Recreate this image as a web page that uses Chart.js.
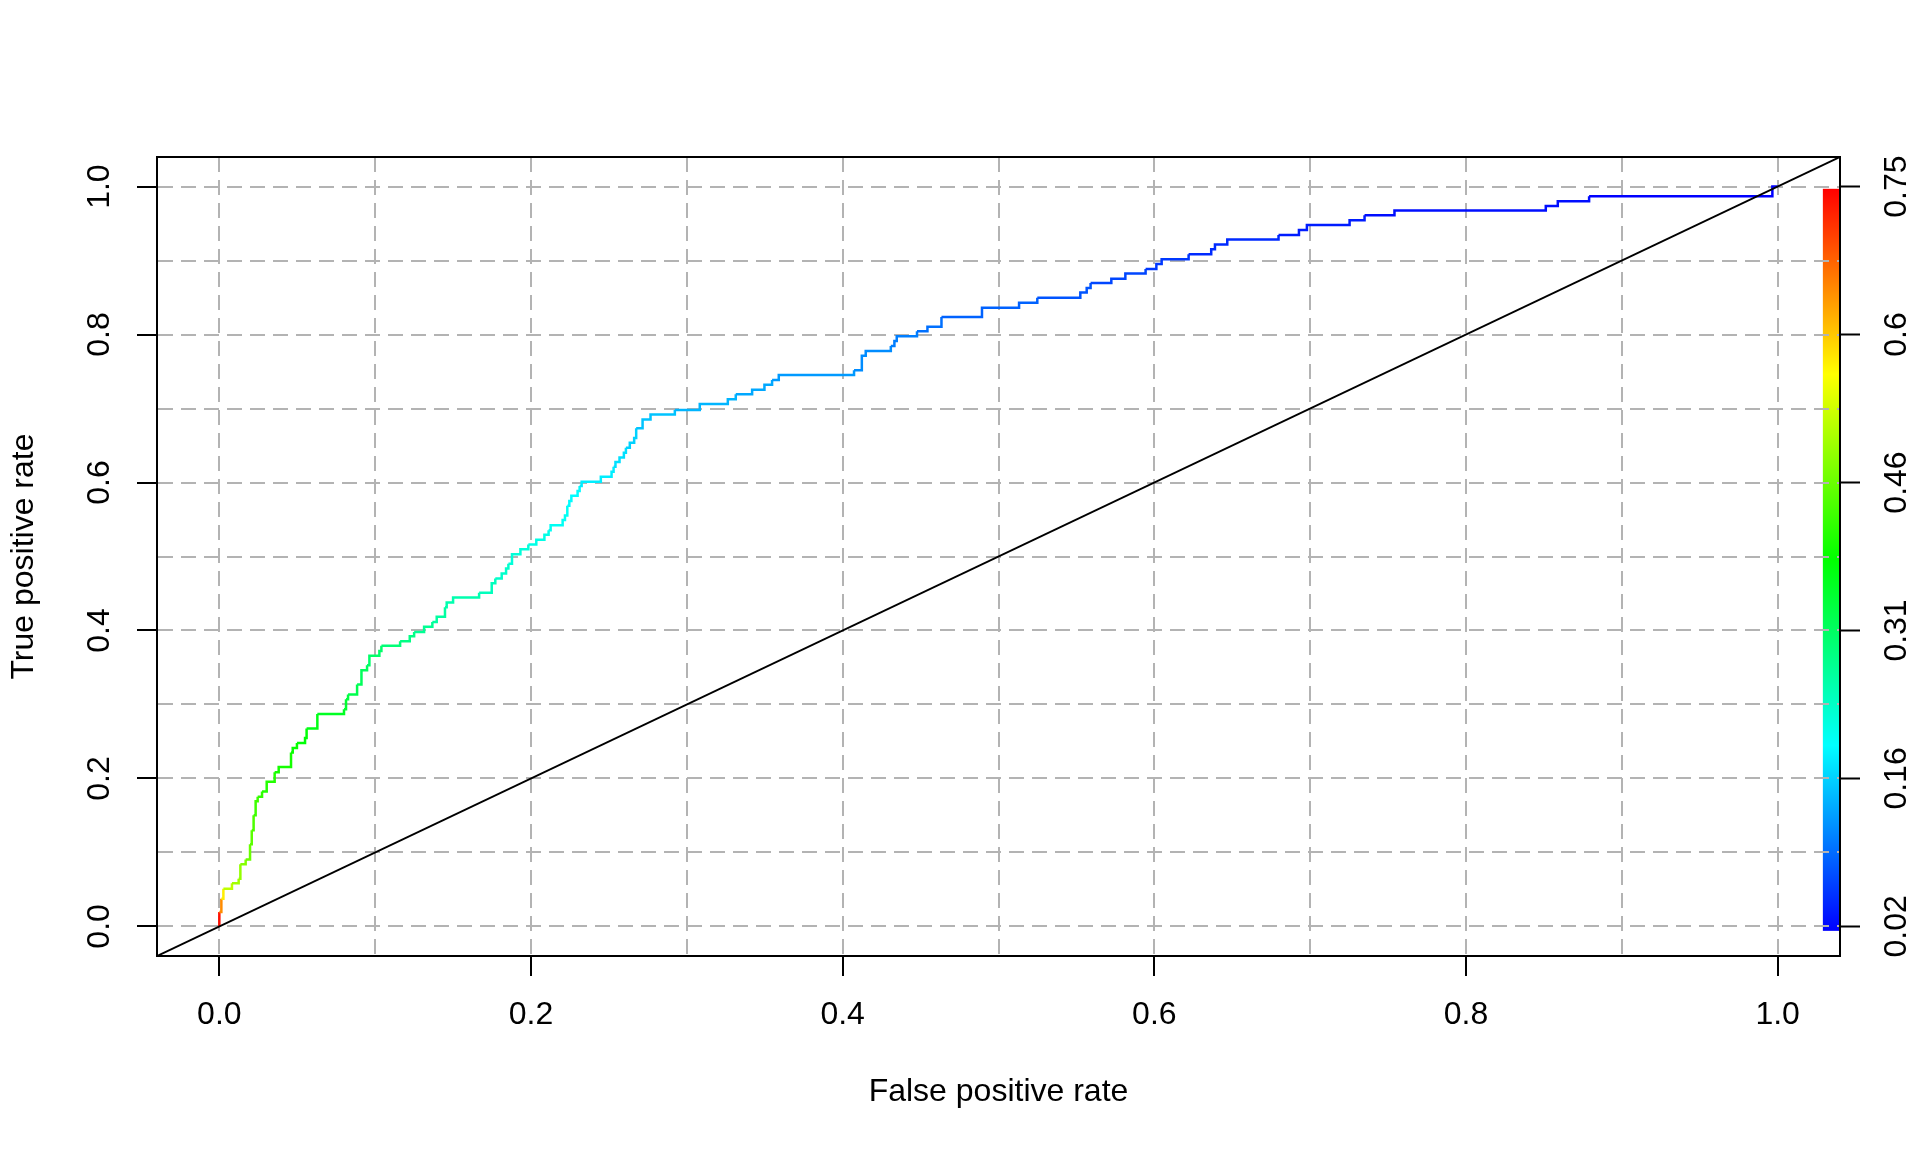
<!DOCTYPE html>
<html>
<head>
<meta charset="utf-8">
<title>ROC curve</title>
<script src="https://cdn.jsdelivr.net/npm/chart.js@4.4.1/dist/chart.umd.min.js"></script>
<style>
  html, body { margin: 0; padding: 0; background: #fff; }
  canvas { display: block; }
</style>
</head>
<body>
<canvas id="chart" width="1920" height="1152"></canvas>
<script>
// ROC curve corners (stepped: go right, then up)
const fpr = [0, 0, 0.0013, 0.0026, 0.0081, 0.0124, 0.0135, 0.0169, 0.0197, 0.0208,
  0.0220, 0.0233, 0.0246, 0.0274, 0.0304, 0.0355, 0.0381, 0.0460, 0.0471, 0.0498,
  0.0550, 0.0560, 0.0629, 0.0800, 0.0813, 0.0826, 0.0884, 0.0912, 0.0948, 0.0963,
  0.1027, 0.1040, 0.1160, 0.1222, 0.1250, 0.1314, 0.1367, 0.1395, 0.1448, 0.1459,
  0.1500, 0.1667, 0.1748, 0.1771, 0.1812, 0.1840, 0.1855, 0.1878, 0.1932, 0.1983,
  0.2034, 0.2086, 0.2113, 0.2126, 0.2203, 0.2218, 0.2233, 0.2246, 0.2259, 0.2299,
  0.2312, 0.2325, 0.2448, 0.2517, 0.2530, 0.2542, 0.2568, 0.2596, 0.2609, 0.2634,
  0.2662, 0.2675, 0.2716, 0.2767, 0.2923, 0.3083, 0.3263, 0.3314, 0.3419, 0.3498,
  0.3547, 0.3590, 0.4073, 0.4123, 0.4148, 0.4309, 0.4332, 0.4347, 0.4477, 0.4544,
  0.4634, 0.4894, 0.5132, 0.5249, 0.5525, 0.5566, 0.5591, 0.5724, 0.5814, 0.5944,
  0.6013, 0.6047, 0.6220, 0.6365, 0.6389, 0.6468, 0.6797, 0.6928, 0.6979, 0.7253,
  0.7349, 0.7541, 0.8512, 0.8589, 0.8790, 0.9966, 1.0];
const tpr = [0, 0.0194, 0.0374, 0.0510, 0.0582, 0.0645, 0.0839, 0.0906, 0.1109, 0.1299,
  0.1501, 0.1691, 0.1754, 0.1822, 0.1957, 0.2083, 0.2155, 0.2349, 0.2412, 0.2480,
  0.2547, 0.2674, 0.2872, 0.2935, 0.3070, 0.3134, 0.3269, 0.3463, 0.3530, 0.3657,
  0.3724, 0.3792, 0.3855, 0.3923, 0.3981, 0.4049, 0.4116, 0.4184, 0.4315, 0.4378,
  0.4446, 0.4509, 0.4640, 0.4703, 0.4770, 0.4838, 0.4901, 0.5032, 0.5099, 0.5163,
  0.5226, 0.5293, 0.5356, 0.5424, 0.5492, 0.5555, 0.5686, 0.5749, 0.5821, 0.5884,
  0.5952, 0.6010, 0.6078, 0.6145, 0.6213, 0.6276, 0.6339, 0.6402, 0.6470, 0.6538,
  0.6601, 0.6732, 0.6853, 0.6921, 0.6980, 0.7061, 0.7124, 0.7192, 0.7255, 0.7322,
  0.7385, 0.7453, 0.7516, 0.7714, 0.7778, 0.7845, 0.7913, 0.7976, 0.8044, 0.8107,
  0.8237, 0.8364, 0.8431, 0.8499, 0.8567, 0.8630, 0.8697, 0.8756, 0.8824, 0.8887,
  0.8954, 0.9018, 0.9085, 0.9153, 0.9216, 0.9284, 0.9347, 0.9414, 0.9482, 0.9545,
  0.9613, 0.9676, 0.9739, 0.9802, 0.9870, 1.0, 1.0];
// cutoff at each corner
const cutoff = [0.75, 0.74, 0.65, 0.58, 0.52, 0.50, 0.49, 0.48, 0.46, 0.45,
  0.44, 0.43, 0.43, 0.42, 0.41, 0.41, 0.40, 0.40, 0.39, 0.39,
  0.38, 0.38, 0.37, 0.36, 0.35, 0.34, 0.33, 0.32, 0.32, 0.31,
  0.31, 0.31, 0.30, 0.29, 0.29, 0.28, 0.28, 0.27, 0.27, 0.26,
  0.26, 0.26, 0.25, 0.25, 0.24, 0.24, 0.24, 0.23, 0.23, 0.23,
  0.22, 0.22, 0.22, 0.21, 0.21, 0.21, 0.21, 0.20, 0.20, 0.20,
  0.20, 0.19, 0.19, 0.19, 0.19, 0.18, 0.18, 0.18, 0.18, 0.17,
  0.17, 0.17, 0.16, 0.16, 0.16, 0.15, 0.15, 0.15, 0.14, 0.14,
  0.14, 0.13, 0.13, 0.12, 0.12, 0.12, 0.11, 0.11, 0.11, 0.10,
  0.10, 0.09, 0.09, 0.09, 0.08, 0.08, 0.08, 0.07, 0.07, 0.07,
  0.06, 0.06, 0.06, 0.05, 0.05, 0.05, 0.05, 0.04, 0.04, 0.04,
  0.04, 0.03, 0.03, 0.03, 0.03, 0.02, 0.02];

const diagX = [-0.04, 1.04];
const diagY = [-0.04, 1.04];

const gridSteps = [0, 0.1, 0.2, 0.3, 0.4, 0.5, 0.6, 0.7, 0.8, 0.9, 1.0];
const majorTicks = [0, 0.2, 0.4, 0.6, 0.8, 1.0];
const cutoffLabels = ['0.02', '0.16', '0.31', '0.46', '0.6', '0.75'];
const cutMin = 0.02, cutMax = 0.75;

const FONT = 'Liberation Sans, Arial, Helvetica, sans-serif';
Chart.defaults.font.family = FONT;
Chart.defaults.font.size = 32;
Chart.defaults.color = '#000';

function cutColor(c) {
  const hue = 240 * (cutMax - c) / (cutMax - cutMin);
  return 'hsl(' + hue.toFixed(1) + ',100%,50%)';
}
const isMajor = v => Math.round(v * 10) % 2 === 0;
const setTicks = list => scale => { scale.ticks = list.map(v => ({ value: v })); };

const gridOpts = {
  color: '#b3b3b3',
  lineWidth: 2,
  tickLength: 20,
  tickWidth: 2,
  tickColor: ctx => (ctx.tick && isMajor(ctx.tick.value)) ? '#000' : 'rgba(0,0,0,0)'
};
const borderOpts = { display: true, color: '#000', width: 2, dash: [15, 8] };

// colour key on the right edge of the plot
const colorBar = {
  id: 'colorBar',
  beforeDraw(chart) {
    const { ctx, scales: { x, y }, chartArea } = chart;
    const top = y.getPixelForValue(0.997);
    const bottom = y.getPixelForValue(-0.006);
    const left = x.getPixelForValue(1.029);
    const g = ctx.createLinearGradient(0, top, 0, bottom);
    g.addColorStop(0, cutColor(cutMax));
    g.addColorStop(0.25, 'hsl(60,100%,50%)');
    g.addColorStop(0.5, 'hsl(120,100%,50%)');
    g.addColorStop(0.75, 'hsl(180,100%,50%)');
    g.addColorStop(1, cutColor(cutMin));
    ctx.save();
    ctx.fillStyle = g;
    ctx.fillRect(left, top, chartArea.right - left, bottom - top);
    ctx.restore();
  }
};

const ctx = document.getElementById('chart').getContext('2d');
new Chart(ctx, {
  type: 'scatter',
  data: {
    datasets: [
      {
        label: 'chance',
        data: diagX.map((v, i) => ({ x: v, y: diagY[i] })),
        showLine: true,
        borderColor: '#000',
        borderWidth: 2,
        pointRadius: 0
      },
      {
        label: 'ROC',
        data: fpr.map((v, i) => ({ x: v, y: tpr[i] })),
        showLine: true,
        stepped: 'before',
        borderWidth: 2.5,
        borderColor: cutColor(cutMax),
        pointRadius: 0,
        segment: {
          borderColor: c => cutColor(cutoff[c.p1DataIndex])
        }
      }
    ]
  },
  options: {
    responsive: false,
    animation: false,
    devicePixelRatio: 1,
    layout: { padding: 0 },
    plugins: { legend: { display: false }, tooltip: { enabled: false } },
    scales: {
      x: {
        type: 'linear', position: 'bottom', min: -0.04, max: 1.04,
        afterBuildTicks: setTicks(gridSteps),
        afterFit: s => { s.height = 196; },
        ticks: {
          autoSkip: false, minRotation: 0, maxRotation: 0, padding: 20,
          callback: v => isMajor(v) ? v.toFixed(1) : ''
        },
        grid: gridOpts,
        border: borderOpts,
        title: { display: true, text: 'False positive rate', padding: { top: 0, bottom: 41 } }
      },
      x2: {
        type: 'linear', axis: 'x', position: 'top', min: -0.04, max: 1.04,
        afterFit: s => { s.height = 157; },
        ticks: { display: false },
        grid: { drawOnChartArea: false, drawTicks: false },
        border: { display: true, color: '#000', width: 2 }
      },
      y: {
        type: 'linear', position: 'left', min: -0.04, max: 1.04,
        afterBuildTicks: setTicks(gridSteps),
        afterFit: s => { s.width = 157; },
        ticks: {
          autoSkip: false, minRotation: 90, maxRotation: 90, crossAlign: 'center', padding: 15,
          callback: v => isMajor(v) ? v.toFixed(1) : ''
        },
        grid: gridOpts,
        border: borderOpts,
        title: { display: true, text: 'True positive rate', padding: { top: 5, bottom: 0 } }
      },
      y2: {
        type: 'linear', position: 'right', min: -0.04, max: 1.04,
        afterBuildTicks: setTicks(majorTicks),
        afterFit: s => { s.width = 80; },
        ticks: {
          autoSkip: false, minRotation: 90, maxRotation: 90, crossAlign: 'center', padding: 6,
          callback: (v, i) => cutoffLabels[i]
        },
        grid: { drawOnChartArea: false, tickLength: 20, tickWidth: 2, tickColor: '#000' },
        border: { display: true, color: '#000', width: 2 }
      }
    }
  },
  plugins: [colorBar]
});
</script>
</body>
</html>
